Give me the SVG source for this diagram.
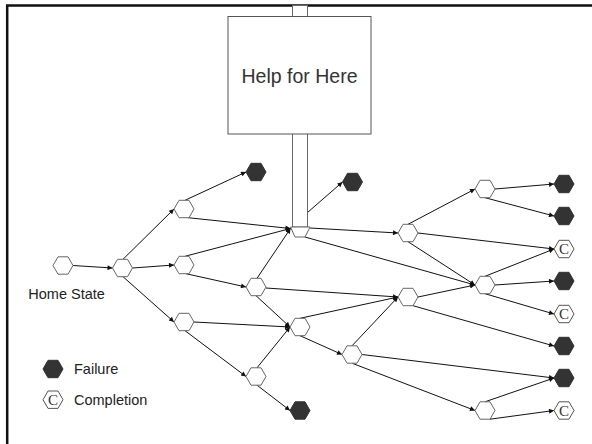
<svg xmlns="http://www.w3.org/2000/svg" xmlns:xlink="http://www.w3.org/1999/xlink" width="592" height="444" viewBox="0 0 592 444">
  <style>
    .edge { fill: none; stroke: #111; stroke-width: 1; marker-end: url(#arrow); }
    .st   { fill: #fff; stroke: #666; stroke-width: 1; }
    .fail { fill: #333; stroke: #333; stroke-width: 1; }
    .comp { fill: #fff; stroke: #555; stroke-width: 1; }
    .cl   { font-family: "Liberation Serif", "Times New Roman", serif; font-size: 15px; fill: #333; text-anchor: middle; }
    .lbl  { font-family: "Liberation Sans", Arial, sans-serif; font-size: 14.5px; fill: #222; }
    .tube { fill: #fff; stroke: #666; stroke-width: 1; }
  </style>
  <defs>
    <path id="hx" d="M-10,0 L-5,-8.7 L5,-8.7 L10,0 L5,8.7 L-5,8.7 Z"/>
    <marker id="arrow" viewBox="0 0 10 10" refX="10" refY="5" markerWidth="7" markerHeight="5" markerUnits="userSpaceOnUse" orient="auto">
      <path d="M0,0 L10,5 L0,10 Z" fill="#111"/>
    </marker>
  </defs>

  <rect width="592" height="444" fill="#fff"/>
  <!-- page frame (open at right and bottom) -->
  <path d="M7.2,444 V5.5 H592" fill="none" stroke="#111" stroke-width="2.5"/>

  <g id="connectors">
    <path class="edge" d="M73,265.5 L112.5,268"/>
    <path class="edge" d="M123,259.3 L174,209"/>
    <path class="edge" d="M132.5,268 L174,265"/>
    <path class="edge" d="M123,276.7 L174,322"/>
    <path class="edge" d="M185,200.3 L246,172"/>
    <path class="edge" d="M188,217.7 L290.5,228.5"/>
    <path class="edge" d="M185,256.3 L290.5,228.5"/>
    <path class="edge" d="M186,273.7 L246,287"/>
    <path class="edge" d="M257,278.3 L290.5,228.5"/>
    <path class="edge" d="M266,288 L398,297"/>
    <path class="edge" d="M256,295.7 L290,327"/>
    <path class="edge" d="M194,322 L290,327"/>
    <path class="edge" d="M185,330.7 L246,376.5"/>
    <path class="edge" d="M257,367.8 L290,327"/>
    <path class="edge" d="M257,385.2 L290,410.5"/>
    <path class="edge" d="M310,228 L398,233"/>
    <path class="edge" d="M305,237 L475,285"/>
    <path class="edge" d="M307.5,212.5 L342.5,182"/>
    <path class="edge" d="M408,224.3 L475,189"/>
    <path class="edge" d="M418,233 L554,249"/>
    <path class="edge" d="M408,241.7 L475,285"/>
    <path class="edge" d="M495,189 L554,184"/>
    <path class="edge" d="M485,197.7 L554,216"/>
    <path class="edge" d="M485,276.3 L554,249"/>
    <path class="edge" d="M495,285 L554,281"/>
    <path class="edge" d="M485,293.7 L554,314"/>
    <path class="edge" d="M418,297 L475,285"/>
    <path class="edge" d="M413,305.7 L554,346"/>
    <path class="edge" d="M300,318.3 L398,297"/>
    <path class="edge" d="M300,335.7 L342,354.5"/>
    <path class="edge" d="M352,345.8 L398,297"/>
    <path class="edge" d="M362,354.5 L554,378"/>
    <path class="edge" d="M352,363.2 L475,410.5"/>
    <path class="edge" d="M485,401.8 L554,378"/>
    <path class="edge" d="M490,419.2 L554,410.5"/>
  </g>

  <!-- help panel plugged into the hub state -->
  <g id="help">
    <rect class="tube" x="292.5" y="5.5" width="15" height="221.5"/>
    <rect x="228" y="16.5" width="143" height="117.5" fill="#fff" stroke="#555" stroke-width="1"/>
    <text x="299.5" y="83" font-family="Liberation Sans, Arial, sans-serif" font-size="19.5" fill="#333" text-anchor="middle">Help for Here</text>
  </g>
  <g id="hub">
    <path class="st" d="M290.5,227 L310,227 L305,237 L295,237 Z"/>
  </g>

  <g id="home"><use href="#hx" x="63" y="265.5" class="st"/>
    <text class="lbl" x="28.3" y="299.3">Home State</text></g>
  <g id="n2"><use href="#hx" x="122.5" y="268" class="st"/></g>
  <g id="a"><use href="#hx" x="184" y="209" class="st"/></g>
  <g id="b"><use href="#hx" x="184" y="265" class="st"/></g>
  <g id="k"><use href="#hx" x="184" y="322" class="st"/></g>
  <g id="d"><use href="#hx" x="256" y="287" class="st"/></g>
  <g id="l"><use href="#hx" x="256" y="376.5" class="st"/></g>
  <g id="h"><use href="#hx" x="300" y="327" class="st"/></g>
  <g id="i"><use href="#hx" x="352" y="354.5" class="st"/></g>
  <g id="c"><use href="#hx" x="408" y="233" class="st"/></g>
  <g id="g"><use href="#hx" x="408" y="297" class="st"/></g>
  <g id="e"><use href="#hx" x="485" y="189" class="st"/></g>
  <g id="f"><use href="#hx" x="485" y="285" class="st"/></g>
  <g id="j"><use href="#hx" x="485" y="410.5" class="st"/></g>

  <g id="fail-a"><use href="#hx" x="256" y="172" class="fail"/></g>
  <g id="fail-hub"><use href="#hx" x="352.5" y="182" class="fail"/></g>
  <g id="fail-l"><use href="#hx" x="300" y="410.5" class="fail"/></g>
  <g id="r1"><use href="#hx" x="564" y="184" class="fail"/></g>
  <g id="r2"><use href="#hx" x="564" y="216" class="fail"/></g>
  <g id="r3"><use href="#hx" x="564" y="249" class="comp"/><text class="cl" x="564" y="254.2">C</text></g>
  <g id="r4"><use href="#hx" x="564" y="281" class="fail"/></g>
  <g id="r5"><use href="#hx" x="564" y="314" class="comp"/><text class="cl" x="564" y="319.2">C</text></g>
  <g id="r6"><use href="#hx" x="564" y="346" class="fail"/></g>
  <g id="r7"><use href="#hx" x="564" y="378" class="fail"/></g>
  <g id="r8"><use href="#hx" x="564" y="410.5" class="comp"/><text class="cl" x="564" y="415.7">C</text></g>

  <g id="legend">
    <use href="#hx" x="53" y="369" class="fail"/>
    <text class="lbl" x="74" y="374">Failure</text>
    <use href="#hx" x="53" y="399.7" class="comp"/>
    <text class="cl" x="53" y="404.9">C</text>
    <text class="lbl" x="74" y="404.5">Completion</text>
  </g>
</svg>
